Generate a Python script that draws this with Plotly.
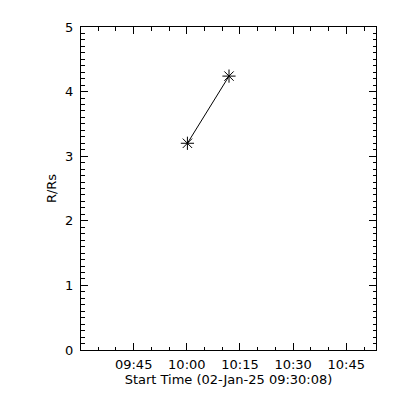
import plotly.graph_objects as go

# Data
start_times = ["2025-01-02 10:00:10", "2025-01-02 10:11:54"]
r_rs = [3.20, 4.24]

x_range = ["2025-01-02 09:30:08", "2025-01-02 10:53:23"]
x_tickvals = ["2025-01-02 09:45:00", "2025-01-02 10:00:00", "2025-01-02 10:15:00",
              "2025-01-02 10:30:00", "2025-01-02 10:45:00"]
x_ticktext = ["09:45", "10:00", "10:15", "10:30", "10:45"]
y_tickvals = [0, 1, 2, 3, 4, 5]

font = dict(family="DejaVu Sans", size=13, color="black")

fig = go.Figure()
fig.add_trace(go.Scatter(
    x=start_times, y=r_rs, mode="lines+markers",
    line=dict(color="black", width=1),
    marker=dict(symbol="asterisk-open", size=11, color="black",
                line=dict(color="black", width=1)),
    showlegend=False,
))

fig.update_layout(
    width=400, height=400,
    margin=dict(l=72.5, r=31.5, t=16.5, b=57.5),
    paper_bgcolor="white", plot_bgcolor="white",
    font=font,
    xaxis=dict(
        range=x_range, type="date",
        tickvals=x_tickvals, ticktext=x_ticktext,
        ticks="inside", ticklen=7, tickwidth=1, tickcolor="black",
        minor=dict(dtick=300000, ticks="inside", ticklen=3.5, tickcolor="black", tickwidth=1),
        showline=True, linecolor="black", linewidth=1, mirror="ticks",
        showgrid=False, zeroline=False,
        ticklabelstandoff=2,
        title=dict(text="Start Time (02-Jan-25 09:30:08)", font=font, standoff=1),
    ),
    yaxis=dict(
        range=[0, 5], tickvals=y_tickvals,
        ticks="inside", ticklen=7, tickwidth=1, tickcolor="black",
        minor=dict(dtick=0.1, ticks="inside", ticklen=3.5, tickcolor="black", tickwidth=1),
        showline=True, linecolor="black", linewidth=1, mirror="ticks",
        showgrid=False, zeroline=False,
        ticklabelstandoff=4,
        title=dict(text="R/Rs", font=font, standoff=5),
    ),
)

fig.write_html("out.html")
